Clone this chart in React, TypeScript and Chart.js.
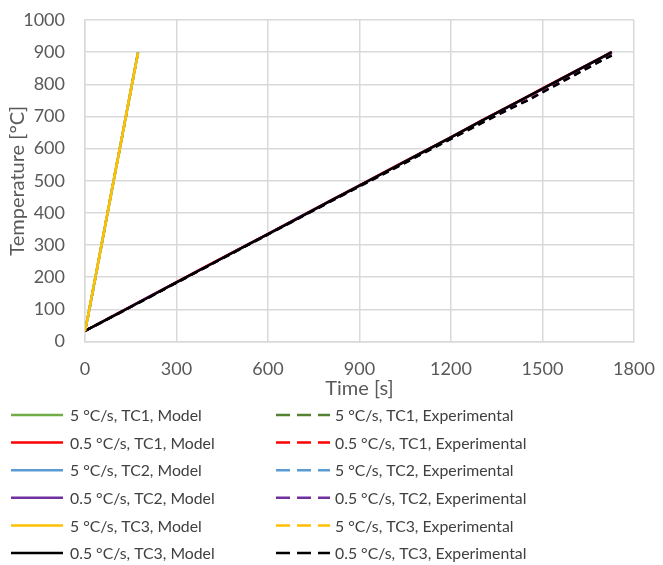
import { useEffect, useRef } from "react";
import { Chart, registerables } from "chart.js";
Chart.register(...registerables);

// 5 °C/s runs
const fastTime = [0, 10, 20, 40, 60, 80, 100, 120, 140, 160, 174];
const fastTC1Model = [32, 80, 130, 230, 330, 430, 530, 630, 730, 830, 900];
const fastTC1Exp = [32, 78, 127, 228, 329, 431, 532, 628, 727, 829, 899];
const fastTC2Model = [32, 79, 129, 229, 330, 430, 530, 630, 731, 831, 900];
const fastTC2Exp = [32, 78, 128, 228, 329, 430, 531, 629, 729, 830, 898];
const fastTC3Model = [32, 80, 130, 230, 330, 430, 530, 630, 730, 830, 899];
const fastTC3Exp = [32, 79, 129, 229, 330, 431, 531, 630, 730, 830, 899];

// 0.5 °C/s runs
const slowTime = [0, 100, 200, 300, 400, 500, 600, 700, 800, 900, 1000, 1100, 1200, 1300, 1350, 1400, 1450, 1500, 1600, 1700, 1727];
const slowTC1Model = [33, 84, 134, 185, 235, 285, 335, 385, 436, 486, 536, 586, 636, 687, 712, 737, 762, 787, 837, 887, 901];
const slowTC1Exp = [33, 83, 133, 184, 234, 284, 334, 384, 434, 484, 533, 583, 632, 681, 705, 729, 751, 777, 828, 879, 891];
const slowTC2Model = [33, 83, 134, 184, 234, 284, 334, 385, 435, 485, 535, 585, 635, 686, 711, 736, 761, 786, 836, 886, 900];
const slowTC2Exp = [33, 83, 133, 183, 233, 283, 333, 383, 433, 483, 532, 582, 631, 680, 704, 728, 750, 776, 827, 878, 890];
const slowTC3Model = [33, 83, 133, 184, 234, 284, 334, 384, 435, 485, 535, 585, 635, 686, 711, 736, 761, 786, 836, 886, 900];
const slowTC3Exp = [33, 82, 132, 183, 233, 283, 333, 383, 433, 482, 531, 581, 630, 679, 703, 727, 749, 775, 826, 877, 889];

const xTicks = [0, 300, 600, 900, 1200, 1500, 1800];
const yTicks = [0, 100, 200, 300, 400, 500, 600, 700, 800, 900, 1000];

const seriesLabels = [
  "5 °C/s, TC1, Model", "5 °C/s, TC1, Experimental",
  "0.5 °C/s, TC1, Model", "0.5 °C/s, TC1, Experimental",
  "5 °C/s, TC2, Model", "5 °C/s, TC2, Experimental",
  "0.5 °C/s, TC2, Model", "0.5 °C/s, TC2, Experimental",
  "5 °C/s, TC3, Model", "5 °C/s, TC3, Experimental",
  "0.5 °C/s, TC3, Model", "0.5 °C/s, TC3, Experimental",
];
const seriesTimes = [fastTime, fastTime, slowTime, slowTime, fastTime, fastTime, slowTime, slowTime, fastTime, fastTime, slowTime, slowTime];
const seriesValues = [
  fastTC1Model, fastTC1Exp, slowTC1Model, slowTC1Exp,
  fastTC2Model, fastTC2Exp, slowTC2Model, slowTC2Exp,
  fastTC3Model, fastTC3Exp, slowTC3Model, slowTC3Exp,
];
const seriesColors = [
  "#70AD47", "#548235", "#FF0000", "#FF0000",
  "#5B9BD5", "#5B9BD5", "#7030A0", "#7030A0",
  "#FFC000", "#FFC000", "#000000", "#000000",
];
const seriesOrder = [5, 4, 5, 4, 3, 2, 3, 2, 1, 0, 1, 0];

const FONT = "Lato, 'Noto Sans', sans-serif";

const legendPlugin = {
  id: "gridLegend",
  afterDraw(chart: any) {
    const ctx = chart.ctx as CanvasRenderingContext2D;
    ctx.save();
    ctx.font = `15.8px ${FONT}`;
    ctx.textBaseline = "middle";
    ctx.textAlign = "left";
    chart.data.datasets.forEach((ds: any, i: number) => {
      const row = Math.floor(i / 2);
      const col = i % 2;
      const y = 415 + row * 27.6;
      const x0 = col === 0 ? 11 : 276;
      const x1 = col === 0 ? 63 : 330;
      const tx = col === 0 ? 70 : 335;
      ctx.beginPath();
      ctx.strokeStyle = ds.borderColor;
      ctx.lineWidth = 2.5;
      ctx.setLineDash(col === 0 ? [] : [14, 7]);
      ctx.moveTo(x0, y);
      ctx.lineTo(x1, y);
      ctx.stroke();
      ctx.setLineDash([]);
      ctx.fillStyle = "#404040";
      ctx.fillText(ds.label, tx, y + 1);
    });
    ctx.restore();
  },
};

export default function App() {
  const ref = useRef<HTMLCanvasElement>(null);
  useEffect(() => {
    document.body.style.margin = "0";
    const datasets = seriesLabels.map((label, i) => ({
      label,
      data: seriesTimes[i].map((t, k) => ({ x: t, y: seriesValues[i][k] })),
      borderColor: seriesColors[i],
      backgroundColor: seriesColors[i],
      borderWidth: 2.5,
      borderDash: i % 2 === 1 ? [7, 5] : [],
      pointRadius: 0,
      tension: 0,
      fill: false,
      order: seriesOrder[i],
    }));
    const chart = new Chart(ref.current!, {
      type: "line",
      data: { datasets },
      plugins: [legendPlugin],
      options: {
        responsive: false,
        animation: false,
        layout: { padding: { left: 0, top: 20, right: 29, bottom: 160 } },
        plugins: { legend: { display: false }, tooltip: { enabled: false } },
        scales: {
          x: {
            type: "linear",
            min: 0,
            max: 1800,
            afterBuildTicks: (s: any) => { s.ticks = xTicks.map((v) => ({ value: v })); },
            afterFit: (s: any) => { s.height = 63.5; s.paddingLeft = 0; s.paddingRight = 0; },
            ticks: { color: "#595959", font: { family: FONT, size: 18 }, padding: 17, maxRotation: 0, callback: (v: any) => String(v) },
            grid: { color: "#D9D9D9", lineWidth: 1.5, drawTicks: false },
            border: { color: "#D9D9D9", width: 1.5 },
            title: { display: true, text: "Time [s]", color: "#595959", font: { family: FONT, size: 20 }, padding: { top: 0, bottom: 4 } },
          },
          y: {
            type: "linear",
            min: 0,
            max: 1000,
            afterBuildTicks: (s: any) => { s.ticks = yTicks.map((v) => ({ value: v })); },
            afterFit: (s: any) => { s.width = 85; s.paddingTop = 0; s.paddingBottom = 0; },
            ticks: { color: "#595959", font: { family: FONT, size: 18 }, padding: 20, callback: (v: any) => String(v) },
            grid: { color: "#D9D9D9", lineWidth: 1.5, drawTicks: false },
            border: { color: "#D9D9D9", width: 1.5 },
            title: { display: true, text: "Temperature [°C]", color: "#595959", font: { family: FONT, size: 20 }, padding: { top: 6, bottom: 0 } },
          },
        },
      },
    });
    return () => chart.destroy();
  }, []);
  return <canvas ref={ref} width={663} height={565} style={{ display: "block" }} />;
}
